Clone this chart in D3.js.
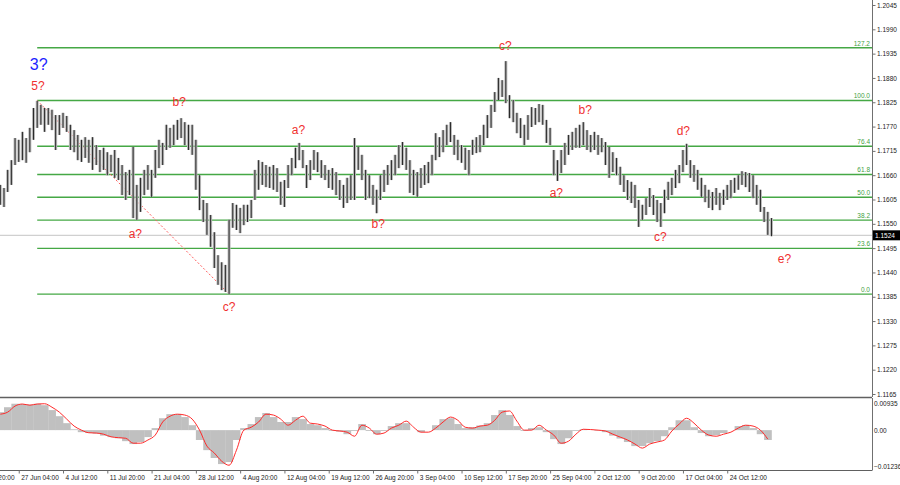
<!DOCTYPE html>
<html><head><meta charset="utf-8">
<script src="https://cdn.jsdelivr.net/npm/d3@7"></script>
<style>body{margin:0;background:#fff}svg{display:block}text{font-family:"Liberation Sans",Arial,sans-serif}</style>
</head><body>
<svg id="c" width="900" height="485"></svg>
<script>
// ---- data (EURUSD-like H4 bars, grouped) ----
const highs = [
1.1638,1.1631,1.1672,1.1694,1.1744,1.1740,1.1758,1.1744,1.1767,1.1812,
1.1828,1.1819,1.1812,1.1812,1.1808,1.1796,1.1796,1.1801,1.1794,1.1774,
1.1762,1.1751,1.1740,1.1746,1.1740,1.1746,1.1728,1.1717,1.1722,1.1712,
1.1706,1.1717,1.1699,1.1683,1.1667,1.1672,1.1724,1.1638,1.1654,1.1672,
1.1683,1.1672,1.1717,1.1740,1.1733,1.1774,1.1767,1.1774,1.1785,1.1789,
1.1780,1.1774,1.1774,1.1740,1.1660,1.1604,1.1597,1.1570,1.1531,1.1479,
1.1463,1.1457,1.1559,1.1597,1.1593,1.1586,1.1593,1.1593,1.1604,1.1672,
1.1694,1.1690,1.1683,1.1679,1.1683,1.1676,1.1645,1.1649,1.1683,1.1699,
1.1722,1.1733,1.1717,1.1683,1.1694,1.1717,1.1712,1.1694,1.1683,1.1672,
1.1676,1.1667,1.1649,1.1638,1.1654,1.1660,1.1744,1.1724,1.1706,1.1672,
1.1660,1.1638,1.1627,1.1660,1.1672,1.1683,1.1694,1.1706,1.1728,1.1735,
1.1722,1.1694,1.1672,1.1667,1.1676,1.1683,1.1690,1.1706,1.1755,1.1746,
1.1762,1.1774,1.1780,1.1751,1.1740,1.1728,1.1722,1.1717,1.1740,1.1746,
1.1751,1.1774,1.1796,1.1819,1.1848,1.1880,1.1875,1.1918,1.1841,1.1830,
1.1801,1.1789,1.1774,1.1796,1.1814,1.1812,1.1821,1.1819,1.1785,1.1767,
1.1717,1.1694,1.1717,1.1733,1.1751,1.1758,1.1767,1.1774,1.1780,1.1762,
1.1751,1.1758,1.1751,1.1744,1.1735,1.1724,1.1712,1.1699,1.1679,1.1660,
1.1649,1.1645,1.1638,1.1604,1.1593,1.1608,1.1631,1.1615,1.1604,1.1597,
1.1627,1.1645,1.1654,1.1672,1.1683,1.1717,1.1731,1.1694,1.1683,1.1672,
1.1654,1.1638,1.1627,1.1622,1.1631,1.1620,1.1627,1.1638,1.1649,1.1654,
1.1660,1.1669,1.1667,1.1665,1.1660,1.1638,1.1627,1.1588,1.1577,1.1563];
const lows = [
1.1593,1.1588,1.1622,1.1638,1.1683,1.1690,1.1694,1.1688,1.1712,1.1740,
1.1767,1.1774,1.1758,1.1774,1.1762,1.1717,1.1751,1.1767,1.1758,1.1717,
1.1712,1.1694,1.1690,1.1699,1.1688,1.1672,1.1683,1.1667,1.1672,1.1660,
1.1667,1.1654,1.1649,1.1615,1.1604,1.1615,1.1563,1.1559,1.1577,1.1615,
1.1627,1.1611,1.1654,1.1676,1.1683,1.1717,1.1722,1.1728,1.1740,1.1744,
1.1728,1.1717,1.1706,1.1627,1.1581,1.1554,1.1525,1.1498,1.1450,1.1412,
1.1400,1.1396,1.1391,1.1541,1.1536,1.1529,1.1547,1.1554,1.1563,1.1604,
1.1627,1.1638,1.1633,1.1631,1.1627,1.1622,1.1593,1.1588,1.1631,1.1660,
1.1676,1.1694,1.1676,1.1631,1.1649,1.1672,1.1667,1.1654,1.1649,1.1631,
1.1627,1.1615,1.1604,1.1586,1.1597,1.1604,1.1604,1.1672,1.1649,1.1604,
1.1608,1.1593,1.1574,1.1604,1.1622,1.1638,1.1649,1.1660,1.1676,1.1683,
1.1672,1.1620,1.1615,1.1611,1.1631,1.1638,1.1642,1.1660,1.1694,1.1701,
1.1712,1.1728,1.1735,1.1706,1.1694,1.1688,1.1672,1.1660,1.1706,1.1710,
1.1712,1.1728,1.1744,1.1767,1.1803,1.1830,1.1837,1.1823,1.1789,1.1780,
1.1755,1.1744,1.1728,1.1740,1.1769,1.1774,1.1780,1.1774,1.1733,1.1728,
1.1660,1.1647,1.1665,1.1683,1.1706,1.1717,1.1722,1.1722,1.1728,1.1717,
1.1712,1.1717,1.1706,1.1712,1.1683,1.1654,1.1667,1.1660,1.1638,1.1622,
1.1604,1.1597,1.1586,1.1543,1.1559,1.1570,1.1588,1.1570,1.1554,1.1543,
1.1574,1.1604,1.1615,1.1631,1.1642,1.1667,1.1683,1.1654,1.1645,1.1627,
1.1611,1.1599,1.1586,1.1581,1.1593,1.1581,1.1593,1.1604,1.1608,1.1620,
1.1627,1.1638,1.1633,1.1622,1.1608,1.1593,1.1577,1.1554,1.1525,1.1522];
const lastPrice = 1.1524;

// oscillator (one value per two bars)
const oscHist = [
0.0062,0.0079,0.0091,0.0090,0.0088,0.0091,0.0086,0.0069,0.0048,0.0024,
0.0003,-0.0007,-0.0010,-0.0012,-0.0019,-0.0024,-0.0028,-0.0038,-0.0048,-0.0041,
-0.0024,0.0007,0.0041,0.0055,0.0055,0.0045,0.0017,-0.0034,-0.0069,-0.0096,
-0.0117,-0.0110,-0.0034,0.0007,0.0021,0.0045,0.0059,0.0045,0.0028,0.0028,
0.0045,0.0038,0.0021,0.0017,0.0007,-0.0003,-0.0005,-0.0014,-0.0003,0.0021,
-0.0003,-0.0014,-0.0003,0.0014,0.0024,0.0024,0.0000,-0.0007,0.0000,0.0017,
0.0038,0.0041,0.0021,0.0007,0.0010,0.0016,0.0024,0.0052,0.0069,0.0052,
0.0014,-0.0003,0.0007,0.0010,-0.0007,-0.0031,-0.0048,-0.0028,-0.0003,0.0003,
0.0000,-0.0002,-0.0007,-0.0019,-0.0029,-0.0041,-0.0055,-0.0055,-0.0045,-0.0038,
-0.0021,0.0010,0.0034,0.0034,0.0010,-0.0010,-0.0021,-0.0017,-0.0010,0.0000,
0.0014,0.0017,0.0007,-0.0014,-0.0034];
const oscSignal = [
0.0055,0.0062,0.0083,0.0090,0.0086,0.0090,0.0091,0.0079,0.0062,0.0038,
0.0014,0.0000,-0.0009,-0.0010,-0.0014,-0.0023,-0.0026,-0.0028,-0.0045,-0.0045,
-0.0034,-0.0017,0.0028,0.0048,0.0055,0.0052,0.0038,0.0000,-0.0055,-0.0079,
-0.0107,-0.0121,-0.0069,0.0000,0.0010,0.0028,0.0055,0.0052,0.0038,0.0017,
0.0034,0.0048,0.0024,0.0021,0.0014,0.0000,-0.0003,-0.0007,-0.0021,0.0017,
0.0007,-0.0014,-0.0010,0.0007,0.0017,0.0031,0.0010,-0.0007,-0.0007,0.0007,
0.0028,0.0045,0.0034,0.0010,0.0007,0.0014,0.0017,0.0034,0.0062,0.0066,
0.0031,0.0000,0.0000,0.0017,0.0000,-0.0017,-0.0045,-0.0038,-0.0014,0.0003,
0.0002,0.0000,-0.0003,-0.0014,-0.0024,-0.0034,-0.0048,-0.0062,-0.0048,-0.0041,
-0.0034,-0.0003,0.0021,0.0041,0.0024,0.0000,-0.0017,-0.0021,-0.0014,-0.0007,
0.0007,0.0017,0.0014,0.0000,-0.0031];

const priceTicks = [1.2045,1.1990,1.1935,1.1880,1.1825,1.1770,1.1715,1.1660,1.1605,1.1550,1.1495,1.1440,1.1385,1.1330,1.1275,1.1220,1.1165];
const oscTicks = [0.00935, 0.00, -0.01236];
const timeLabels = ["20 Jun 20:00","27 Jun 04:00","4 Jul 12:00","11 Jul 20:00","21 Jul 04:00","28 Jul 12:00","4 Aug 20:00","12 Aug 04:00","19 Aug 12:00","26 Aug 20:00","3 Sep 04:00","10 Sep 12:00","17 Sep 20:00","25 Sep 04:00","2 Oct 12:00","9 Oct 20:00","17 Oct 04:00","24 Oct 12:00"];
const timeLabelBars = [-7,5,17,29,41,53,65,77,89,101,113,125,137,149,161,173,185,197];

const fibLevels = [0, 23.6, 38.2, 50.0, 61.8, 76.4, 100.0, 127.2];
const fibLabels = ["0.0","23.6","38.2","50.0","61.8","76.4","100.0","127.2"];
const fibStartBar = 10, fibHigh = 1.1829, fibLow = 1.1391;

const waveText  = ["3?","5?","b?","a?","c?","a?","b?","c?","b?","a?","c?","d?","e?"];
const waveBar   = [10.4,10.2,48.5,36.6,62,80.8,102.4,136.9,158.5,150.7,178.9,185.1,212.5];
const wavePrice = [1.1898,1.1853,1.1817,1.1518,1.1353,1.1753,1.1541,1.1943,1.1798,1.1611,1.1511,1.1751,1.1461];
const trendBars = [10, 62];
const trendPrices = [1.1829, 1.1391];

// ---- layout ----
const W = 900, H = 485, PR = 872;
const mainTop = 0, mainBot = 397, oscTop = 398, oscBot = 470;
const svg = d3.select("#c");
const x = d3.scaleLinear().domain([0, 209]).range([0.3, 771.5]);
const y = d3.scaleLinear().domain([1.1165, 1.2045]).range([394, 5]);
const yo = d3.scaleLinear().domain([-0.01236, 0.00935]).range([466, 403]);

const defs = svg.append("defs");
defs.append("clipPath").attr("id","cm").append("rect").attr("x",0).attr("y",mainTop).attr("width",PR).attr("height",mainBot-mainTop);
defs.append("clipPath").attr("id","co").append("rect").attr("x",0).attr("y",oscTop).attr("width",PR).attr("height",oscBot-oscTop);

const gm = svg.append("g").attr("clip-path","url(#cm)");
// current price line
gm.append("line").attr("x1",0).attr("x2",PR).attr("y1",y(lastPrice)).attr("y2",y(lastPrice))
  .attr("stroke","#d0d0d0").attr("stroke-width",1.2);
// fib lines
fibLevels.forEach((lv,i)=>{
  const p = fibLow + (fibHigh-fibLow)*lv/100;
  gm.append("line").attr("x1",x(fibStartBar)).attr("x2",PR).attr("y1",y(p)).attr("y2",y(p))
    .attr("stroke","#45a845").attr("stroke-width",1.4);
  gm.append("text").attr("x",PR-2).attr("y",y(p)-2).attr("text-anchor","end")
    .attr("font-size",6.5).attr("fill","#3f9f3f").text(fibLabels[i]);
});
// trend line
gm.append("line").attr("x1",x(trendBars[0])).attr("y1",y(trendPrices[0]))
  .attr("x2",x(trendBars[1])).attr("y2",y(trendPrices[1]))
  .attr("stroke","#ff5a5a").attr("stroke-width",1).attr("stroke-dasharray","2,2");
// bars
const bars = highs.map((h,i)=>({i,h,l:lows[i]}));
gm.selectAll("rect.bar").data(bars).enter().append("rect").attr("class","bar")
  .attr("x",d=>x(d.i)-1.5).attr("width",3)
  .attr("y",d=>y(d.h)).attr("height",d=>Math.max(1,y(d.l)-y(d.h)))
  .attr("fill","#b8b8b8");
gm.selectAll("line.bar").data(bars).enter().append("line").attr("class","bar")
  .attr("x1",d=>x(d.i)).attr("x2",d=>x(d.i))
  .attr("y1",d=>y(d.h)).attr("y2",d=>y(d.l))
  .attr("stroke","#2a2a2a").attr("stroke-width",1);
// wave labels
waveText.forEach((t,i)=>{
  gm.append("text").attr("x",x(waveBar[i])).attr("y",y(wavePrice[i])).attr("text-anchor","middle")
    .attr("font-size", i===0?16:12).attr("fill", i===0?"#1f1fff":"#f03030").text(t);
});

// oscillator
const go = svg.append("g").attr("clip-path","url(#co)");
go.selectAll("rect").data(oscHist).enter().append("rect")
  .attr("x",(d,j)=>x(2*j-1)).attr("width",(d,j)=>x(2*j+1)-x(2*j-1)+0.3)
  .attr("y",d=>Math.min(yo(d),yo(0))).attr("height",d=>Math.abs(yo(d)-yo(0)))
  .attr("fill","#c0c0c0");
go.append("path").datum(oscSignal)
  .attr("d", d3.line().x((d,j)=>x(2*j)).y(d=>yo(d)).curve(d3.curveMonotoneX))
  .attr("fill","none").attr("stroke","#ff2a2a").attr("stroke-width",1);

// frames
svg.append("line").attr("x1",0).attr("x2",PR).attr("y1",mainBot+0.5).attr("y2",mainBot+0.5).attr("stroke","#606060").attr("stroke-width",1.5);
svg.append("line").attr("x1",0).attr("x2",PR+0.5).attr("y1",oscBot+0.5).attr("y2",oscBot+0.5).attr("stroke","#606060").attr("stroke-width",1);

// axes
function styleAxis(g){
  g.selectAll("path.domain").attr("stroke","#707070");
  g.selectAll(".tick line").attr("stroke","#707070");
  g.selectAll("text").attr("font-size",6.5).attr("fill","#222").attr("font-family","Liberation Sans, Arial, sans-serif");
}
const ga = svg.append("g").attr("transform",`translate(${PR+0.5},0)`)
  .call(d3.axisRight(y).tickValues(priceTicks).tickSize(3).tickSizeOuter(0).tickPadding(1.5).tickFormat(d3.format(".4f")));
ga.select("path.domain").attr("d",`M0,0V${mainBot}`);
styleAxis(ga);
const gao = svg.append("g").attr("transform",`translate(${PR+0.5},0)`)
  .call(d3.axisRight(yo).tickValues(oscTicks).tickSize(0).tickSizeOuter(0).tickPadding(1.5)
    .tickFormat(d=> d===0 ? "0.00" : d3.format(".5f")(d)));
gao.select("path.domain").attr("d",`M0,${oscTop}V${oscBot}`);
styleAxis(gao);
const gt = svg.append("g").attr("transform",`translate(0,${oscBot+0.5})`)
  .call(d3.axisBottom(x).tickValues(timeLabelBars).tickSize(3).tickSizeOuter(0)
    .tickFormat((d,i)=>timeLabels[i]));
gt.select("path.domain").remove();
styleAxis(gt);
gt.selectAll("text").attr("text-anchor","start").attr("dx",2).attr("dy","0.5em");

// last price box
svg.append("rect").attr("x",PR+1).attr("y",y(lastPrice)-5).attr("width",W-PR-1).attr("height",10).attr("fill","#000");
svg.append("text").attr("x",PR+3).attr("y",y(lastPrice)+2.4).attr("font-size",6.5).attr("fill","#fff").text(d3.format(".4f")(lastPrice));
</script>
</body></html>
